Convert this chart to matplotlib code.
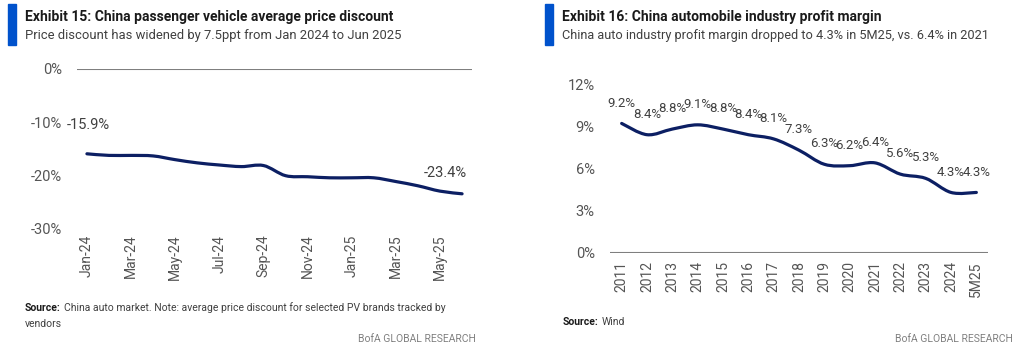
import numpy as np
import matplotlib.pyplot as plt
from matplotlib.path import Path
from matplotlib.patches import PathPatch, Rectangle
from matplotlib.text import Annotation

plt.rcParams['font.family'] = ['Roboto', 'DejaVu Sans']

# Exhibit 15 data (monthly, Jan-24 .. Jun-25)
months = ['Jan-24', 'Feb-24', 'Mar-24', 'Apr-24', 'May-24', 'Jun-24', 'Jul-24', 'Aug-24', 'Sep-24',
          'Oct-24', 'Nov-24', 'Dec-24', 'Jan-25', 'Feb-25', 'Mar-25', 'Apr-25', 'May-25', 'Jun-25']
discount = [-15.9, -16.2, -16.2, -16.3, -17.0, -17.6, -18.0, -18.3, -18.1,
            -20.0, -20.2, -20.4, -20.4, -20.4, -21.1, -21.9, -22.9, -23.4]

# Exhibit 16 data (annual)
years = ['2011', '2012', '2013', '2014', '2015', '2016', '2017', '2018', '2019',
         '2020', '2021', '2022', '2023', '2024', '5M25']
margin = [9.2, 8.4, 8.8, 9.1, 8.8, 8.4, 8.1, 7.3, 6.3, 6.2, 6.4, 5.6, 5.3, 4.3, 4.3]

NAVY = '#0c1f63'
TXT = '#555555'
BLUE = '#0052cc'


def smooth_line(ax, y):
    # Excel style smoothed line: catmull-rom segments as cubic beziers
    x = np.arange(len(y), dtype=float)
    y = np.asarray(y, dtype=float)
    verts = [(x[0], y[0])]
    codes = [Path.MOVETO]
    for i in range(len(x) - 1):
        p0 = (x[max(i - 1, 0)], y[max(i - 1, 0)])
        p1 = (x[i], y[i])
        p2 = (x[i + 1], y[i + 1])
        p3 = (x[min(i + 2, len(x) - 1)], y[min(i + 2, len(x) - 1)])
        c1 = (p1[0] + (p2[0] - p0[0]) / 6, p1[1] + (p2[1] - p0[1]) / 6)
        c2 = (p2[0] - (p3[0] - p1[0]) / 6, p2[1] - (p3[1] - p1[1]) / 6)
        verts += [c1, c2, p2]
        codes += [Path.CURVE4] * 3
    ax.add_patch(PathPatch(Path(verts, codes), fill=False, edgecolor=NAVY, lw=2.3,
                           capstyle='round', joinstyle='round', zorder=3))


def style(ax):
    for s in ax.spines.values():
        s.set_visible(False)
    ax.tick_params(length=0, colors=TXT, labelsize=10.5)
    ax.tick_params(axis='x', labelrotation=90, labelsize=10, pad=4)


fig = plt.figure(figsize=(10.18, 3.51), dpi=100)

# ---- left chart
ax1 = fig.add_axes([77 / 1018, 1 - 229 / 351, 395 / 1018, 160 / 351])
style(ax1)
smooth_line(ax1, discount)
ax1.axhline(0, color='#7f7f7f', lw=1.5, zorder=2)
ax1.set_xlim(-0.45, len(months) - 1 + 0.45)
ax1.set_ylim(-30, 0)
ax1.set_yticks([0, -10, -20, -30])
ax1.set_yticklabels(['0%', '-10%', '-20%', '-30%'])
ax1.tick_params(axis='y', pad=11)
ax1.set_xticks(range(0, len(months), 2))
ax1.set_xticklabels(months[::2])
ax1.annotate('%.1f%%' % discount[0], (0, discount[0]), xytext=(1, 16), textcoords='offset points',
             ha='center', va='bottom', fontsize=10.5, color='#404040')
ax1.annotate('%.1f%%' % discount[-1], (len(discount) - 1, discount[-1]), xytext=(-12, 10),
             textcoords='offset points', ha='center', va='bottom', fontsize=10.5, color='#404040')

# ---- right chart
ax2 = fig.add_axes([610 / 1018, 1 - 253 / 351, 378 / 1018, 169 / 351])
style(ax2)
smooth_line(ax2, margin)
ax2.axhline(0, color='#7f7f7f', lw=1.5, zorder=2)
ax2.set_xlim(-0.46, len(years) - 1 + 0.46)
ax2.set_ylim(0, 12)
ax2.set_yticks([0, 3, 6, 9, 12])
ax2.set_yticklabels(['0%', '3%', '6%', '9%', '12%'])
ax2.tick_params(axis='y', pad=11)
ax2.set_xticks(range(len(years)))
ax2.set_xticklabels(years)
ax2.tick_params(axis='x', pad=6)
for i, v in enumerate(margin):
    ax2.annotate('%.1f%%' % v, (i, v), xytext=(0, 10), textcoords='offset points',
                 ha='center', va='bottom', fontsize=9.5, color='#404040')

# ---- titles, sources
fig.patches.append(Rectangle((8 / 1018, 1 - 45 / 351), 8 / 1018, 41 / 351,
                             transform=fig.transFigure, color=BLUE))
fig.patches.append(Rectangle((545 / 1018, 1 - 45 / 351), 8 / 1018, 41 / 351,
                             transform=fig.transFigure, color=BLUE))

fig.text(25 / 1018, 1 - 17 / 351, 'Exhibit 15: China passenger vehicle average price discount',
         fontsize=10, fontweight='bold', color='#1a1a1a', va='center')
fig.text(25 / 1018, 1 - 36 / 351, 'Price discount has widened by 7.5ppt from Jan 2024 to Jun 2025',
         fontsize=9.4, color='#404040', va='center')
fig.text(562 / 1018, 1 - 17 / 351, 'Exhibit 16: China automobile industry profit margin',
         fontsize=10, fontweight='bold', color='#1a1a1a', va='center')
fig.text(562 / 1018, 1 - 36 / 351, 'China auto industry profit margin dropped to 4.3% in 5M25, vs. 6.4% in 2021',
         fontsize=9.2, color='#404040', va='center')

s1 = fig.text(25 / 1018, 1 - 308 / 351, 'Source:', fontsize=7.5, fontweight='bold', color='#1a1a1a', va='center')
fig.add_artist(Annotation('China auto market. Note: average price discount for selected PV brands tracked by',
                          xy=(1, 0.5), xycoords=s1, xytext=(2, 0), textcoords='offset points',
                          va='center', fontsize=7.5, color='#404040'))
fig.text(25 / 1018, 1 - 324 / 351, 'vendors', fontsize=7.5, color='#404040', va='center')
fig.text(476 / 1018, 1 - 339 / 351, 'BofA GLOBAL RESEARCH', fontsize=7.5, color='#808080', ha='right', va='center')

s2 = fig.text(563 / 1018, 1 - 322 / 351, 'Source:', fontsize=7.5, fontweight='bold', color='#1a1a1a', va='center')
fig.add_artist(Annotation('Wind', xy=(1, 0.5), xycoords=s2, xytext=(2, 0), textcoords='offset points',
                          va='center', fontsize=7.5, color='#404040'))
fig.text(1013 / 1018, 1 - 339 / 351, 'BofA GLOBAL RESEARCH', fontsize=7.5, color='#808080', ha='right', va='center')

fig.savefig('out.png', dpi=100, facecolor='white')
